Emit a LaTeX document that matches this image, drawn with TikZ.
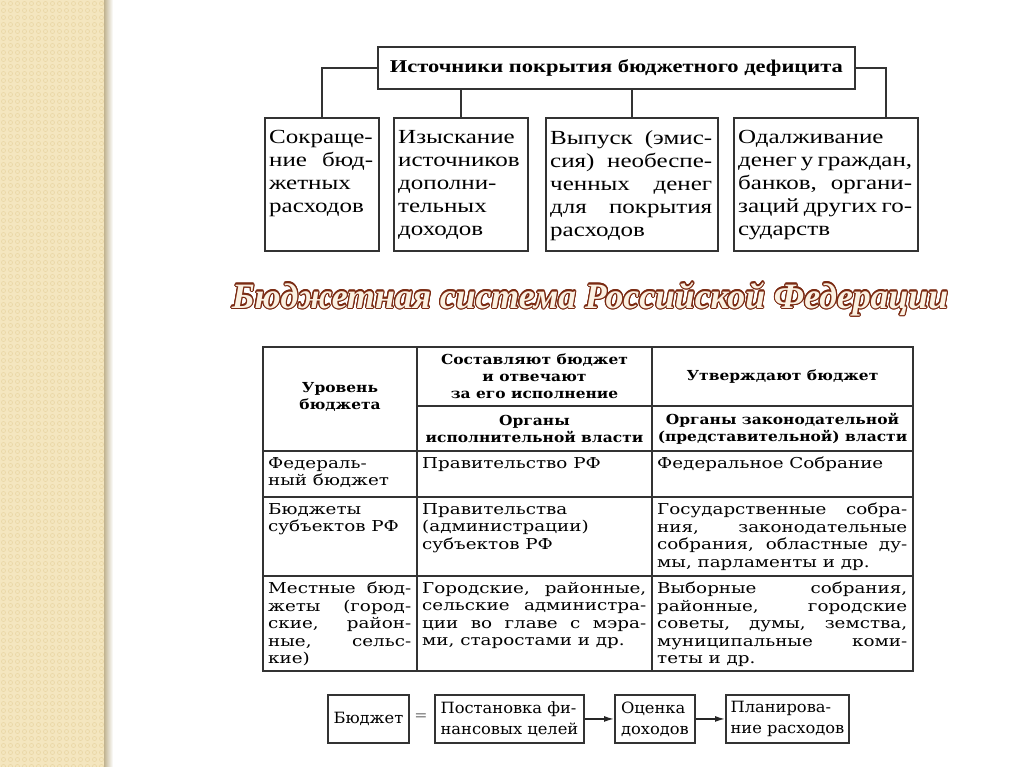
\documentclass[tikz,border=0pt]{standalone}
\usepackage{fontspec}
\setmainfont{Liberation Serif}
\newfontfamily\boxfont[FakeStretch=1.25]{Liberation Serif}
\newfontfamily\tabfont[FakeStretch=1.22]{DejaVu Serif}
\newfontfamily\headfont[FakeStretch=1.12]{DejaVu Serif}
\newfontfamily\flowfont[FakeStretch=1.05]{DejaVu Serif}
\usetikzlibrary{arrows.meta,positioning}

\definecolor{stripbg}{HTML}{F4E6BF}
\definecolor{stripdot}{HTML}{E8D5A4}
\definecolor{titlebrown}{HTML}{7A2A12}
\definecolor{titlecream}{HTML}{FBF1E2}

\tikzset{
  boxline/.style={draw=black!80, line width=1.9pt},
  justtext/.style={anchor=north west, inner sep=0pt, align=justify,
    execute at begin node={\pretolerance=10000\tolerance=10000\hbadness=10000}},
  srcbox/.style={boxline, anchor=north west, inner sep=0pt},
  srctext/.style={justtext, font=\boxfont\fontsize{20}{23}\selectfont},
  cell/.style={justtext, font=\tabfont\fontsize{15}{17.5}\selectfont},
  headcell/.style={inner sep=0pt, align=center,
    font=\headfont\bfseries\fontsize{13.8}{17}\selectfont},
  flowbox/.style={boxline, anchor=north west, inner sep=0pt, align=left,
    font=\flowfont\fontsize{15.5}{21}\selectfont},
  flowarrow/.style={line width=1.4pt, black!85, -{Latex[length=10pt,width=6pt]}},
  titletext/.style={inner sep=0pt,
    font=\bfseries\itshape\fontsize{35.7}{40}\selectfont},
}

\begin{document}
\begin{tikzpicture}[x=1pt,y=-1pt]
\useasboundingbox (0,0) rectangle (1024,767);
% left strip
\fill[stripbg] (0,0) rectangle (108,767);
\foreach \i in {0,...,14}
  \foreach \j in {0,...,109}
    \draw[stripdot, line width=0.6pt] (\i*7+3.5,\j*7+3.5) circle (2);
\shade[left color=stripdot!80!black!90, right color=white] (104,0) rectangle (113,767);

% sources of deficit covering
\node[srcbox, minimum width=477, minimum height=42, font=\boxfont\bfseries\fontsize{18}{22}\selectfont] (deficit) at (377,46) {Источники покрытия бюджетного дефицита};
\node[srcbox, minimum width=114, minimum height=133] (cut) at (264,117) {};
\node[srcbox, minimum width=134, minimum height=133] (search) at (393,117) {};
\node[srcbox, minimum width=172, minimum height=133] (emission) at (545,117) {};
\node[srcbox, minimum width=184, minimum height=133] (borrow) at (733,117) {};
\node[srctext, text width=104] (cuttext) at ([shift={(5,13)}]cut.north west) {Сокраще-\linebreak ние бюд-\linebreak жетных\\ расходов};
\node[srctext, text width=124] (searchtext) at ([shift={(5,13)}]search.north west) {Изыскание\\ источников\\ дополни-\\ тельных\\ доходов};
\node[srctext, text width=162] (emissiontext) at ([shift={(5,13)}]emission.north west) {Выпуск (эмис-\linebreak сия) необеспе-\linebreak ченных денег\linebreak для покрытия\linebreak расходов};
\node[srctext, text width=174] (borrowtext) at ([shift={(5,13)}]borrow.north west) {Одалживание\\ денег у граждан,\linebreak банков, органи-\linebreak заций других го-\linebreak сударств};
\draw[boxline] (deficit.west) -| (cut.north);
\draw[boxline] (deficit.east) -| ([xshift=60pt]borrow.north);
\draw[boxline] (search.north) -- (search.north |- deficit.south);
\draw[boxline] (emission.north) -- (emission.north |- deficit.south);

% heading
\foreach \a in {0,22.5,...,337.5}
  \path (590,299) ++(\a:1.2) node[titletext, text=titlebrown] (tsh\a) {Бюджетная система Российской Федерации};
\node[titletext, text=titlecream] (title) at (590,299) {Бюджетная система Российской Федерации};

% table
\draw[boxline] (263,347) rectangle (913,671);
\draw[boxline] (417,347) -- (417,671);
\draw[boxline] (652,347) -- (652,671);
\draw[boxline] (417,406) -- (913,406);
\foreach \y in {451,497,576}
  \draw[boxline] (263,\y) -- (913,\y);
\node[headcell] (lvlhead) at (340,397) {Уровень\\бюджета};
\node[headcell] (makehead) at (534.5,376.5) {Составляют бюджет\\и отвечают\\за его исполнение};
\node[headcell] (approvehead) at (782.5,377) {Утверждают бюджет};
\node[headcell] (exechead) at (534.5,428.5) {Органы\\исполнительной власти};
\node[headcell] (leghead) at (782.5,428.5) {Органы законодательной\\(представительной) власти};
\node[cell, text width=143] (fedname) at (268,457) {Федераль-\\ ный бюджет};
\node[cell, text width=224] (fedexec) at (422,457) {Правительство РФ};
\node[cell, text width=250] (fedleg) at (657,457) {Федеральное Собрание};
\node[cell, text width=143] (subjname) at (268,503) {Бюджеты\\ субъектов РФ};
\node[cell, text width=224] (subjexec) at (422,503) {Правительства\\ (администрации)\\ субъектов РФ};
\node[cell, text width=250] (subjleg) at (657,503) {Государственные собра-\linebreak ния, законодательные\linebreak собрания, областные ду-\linebreak мы, парламенты и др.};
\node[cell, text width=143] (locname) at (268,582) {Местные бюд-\linebreak жеты (город-\linebreak ские, район-\linebreak ные, сельс-\linebreak кие)};
\node[cell, text width=224] (locexec) at (422,582) {Городские, районные,\linebreak сельские администра-\linebreak ции во главе с мэра-\linebreak ми, старостами и др.};
\node[cell, text width=250] (locleg) at (657,582) {Выборные собрания,\linebreak районные, городские\linebreak советы, думы, земства,\linebreak муниципальные коми-\linebreak теты и др.};

% budget process
\node[flowbox, minimum width=81, minimum height=48, align=center] (budget) at (327,694) {Бюджет};
\node[flowbox, minimum width=149, minimum height=48] (goals) at (434,694) {Постановка фи-\\нансовых целей};
\node[flowbox, minimum width=80, minimum height=48] (income) at (614,694) {Оценка\\доходов};
\node[flowbox, minimum width=123, minimum height=48] (spending) at (725,694) {Планирова-\\ние расходов};
\node[font=\flowfont\fontsize{15}{18}\selectfont, text=black!55] (eqsign) at (421,717) {=};
\draw[flowarrow] (goals) -- (income);
\draw[flowarrow] (income) -- (spending);
\end{tikzpicture}
\end{document}
